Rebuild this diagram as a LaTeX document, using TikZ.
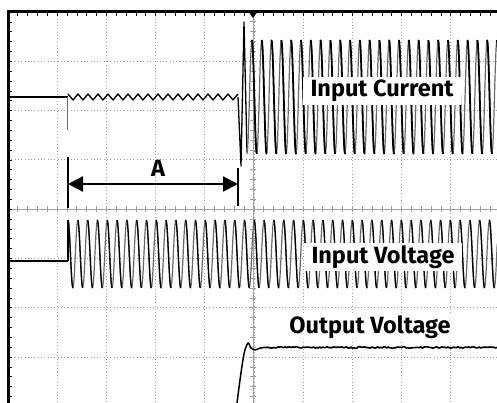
\documentclass[tikz,border=0pt]{standalone}
\usepackage{fontspec}
\newfontfamily\scopefont{Fira Sans}[BoldFont=* Bold]
\usetikzlibrary{positioning,arrows.meta}
\definecolor{gridgray}{RGB}{160,160,160}
\definecolor{tracegray}{RGB}{105,105,105}

\begin{document}
\begin{tikzpicture}[x=1pt,y=-1pt,
	gridline/.style={gridgray,line width=0.9pt,dash pattern=on 1pt off 2.3pt},
	centeraxis/.style={gridgray,line width=0.8pt},
	scopeframe/.style={black,line width=3pt},
	trace/.style={black,line width=1.3pt,line join=round},
	tracelight/.style={tracegray,line width=1.2pt,line join=round},
	markbar/.style={black,line width=2.6pt},
	tracelabel/.style={
		font={\scopefont\bfseries\fontsize{23.5}{26}\selectfont},
		fill=white,
		anchor=base,
		inner xsep=8pt,
		inner ysep=3pt,
		text height=17pt,
		text depth=5pt},
	]
	\useasboundingbox (0,0) rectangle (497,403);
	\fill[white] (0,0) rectangle (497,403);
	\begin{scope}
		\clip (8,12) rectangle (497,403);
		% graticule
		\foreach \i in {1,...,9}
			\draw[gridline] ({8+49.2*\i},12) -- ({8+49.2*\i},403);
		\foreach \j in {1,...,7}
			\draw[gridline] (8,{12+49.3*\j}) -- (497,{12+49.3*\j});
		\draw[centeraxis] (8,209) -- (497,209);
		\draw[centeraxis] (253,12) -- (253,403);
		\foreach \k in {1,...,49}
			\draw[centeraxis] ({8+9.84*\k},206) -- ({8+9.84*\k},212);
		\foreach \k in {1,...,40}
			\draw[centeraxis] (250,{12+9.86*\k}) -- (256,{12+9.86*\k});
		\foreach \k in {1,...,49}
			\draw[black,line width=0.7pt] ({8+9.84*\k},12) -- ++(0,4);
		\foreach \k in {1,...,40}
			\draw[black,line width=0.7pt] (8,{12+9.86*\k}) -- ++(4,0);
		
		% input current
		\draw[trace,line width=1.8pt] (8,97) -- (68,97);
		\draw[tracelight,line width=0.8pt] (67,97) -- (67,130);
		\draw[trace] plot[domain=0:34,samples=35] ({68+5*\x},{97-3*cos(180*\x)});
		\draw[trace] (238,97) -- (241,166) -- (244,22) -- (247,152);
		\draw[tracelight] plot[domain=0:25.6,samples=400] ({247+9.8*\x},{97+57*cos(360*\x)});
		\foreach \n in {0,...,25}
			\draw[trace,line width=1.8pt] plot[domain=0:4.9,samples=12] ({251.9+9.8*\n+\x},{97-57*cos(180*\x/4.9)});
		
		% input voltage
		\draw[trace,line width=1.8pt] (8,261) -- (68,261);
		\draw[trace] (68,261) -- (68,220);
		\draw[tracelight] plot[domain=0:43.8,samples=600] ({68+9.8*\x},{254-34*cos(360*\x)});
		\foreach \n in {0,...,43}
			\draw[trace] plot[domain=0:4.9,samples=12] ({68+9.8*\n+\x},{254-34*cos(180*\x/4.9)});
		
		% output voltage
		\pgfmathsetseed{11}
		\draw[trace,line width=1.5pt] plot[smooth] coordinates {(237,403) (240,380) (244,354) (248,343) (251,348) (255,350) (260,348)};
		\draw[trace,line width=1.6pt] plot[domain=260:497,samples=160] (\x,{347.5+1.6*rnd-0.8});
	\end{scope}
	
	% frame and trigger mark
	\draw[scopeframe] (8,403) -- (8,12) -- (497,12);
	\fill (253,18) -- (248,11) -- (258,11) -- cycle;
	
	% interval A
	\coordinate (astart) at (68,184);
	\coordinate (aend) at (238,184);
	\draw[markbar] (68,157) -- (68,208);
	\draw[markbar] (238,168) -- (238,206);
	\draw[{Triangle[length=15pt,width=15pt]}-{Triangle[length=15pt,width=15pt]},line width=2.2pt] (astart) -- (aend);
	\node[tracelabel,fill=none,inner sep=0pt] (alabel) at (158,177) {A};
	
	\node[tracelabel] (current) at (382,97) {Input Current};
	\node[tracelabel] (voltage) at (383,263) {Input Voltage};
	\node[tracelabel] (output) at (370,333) {Output Voltage};
\end{tikzpicture}
\end{document}
